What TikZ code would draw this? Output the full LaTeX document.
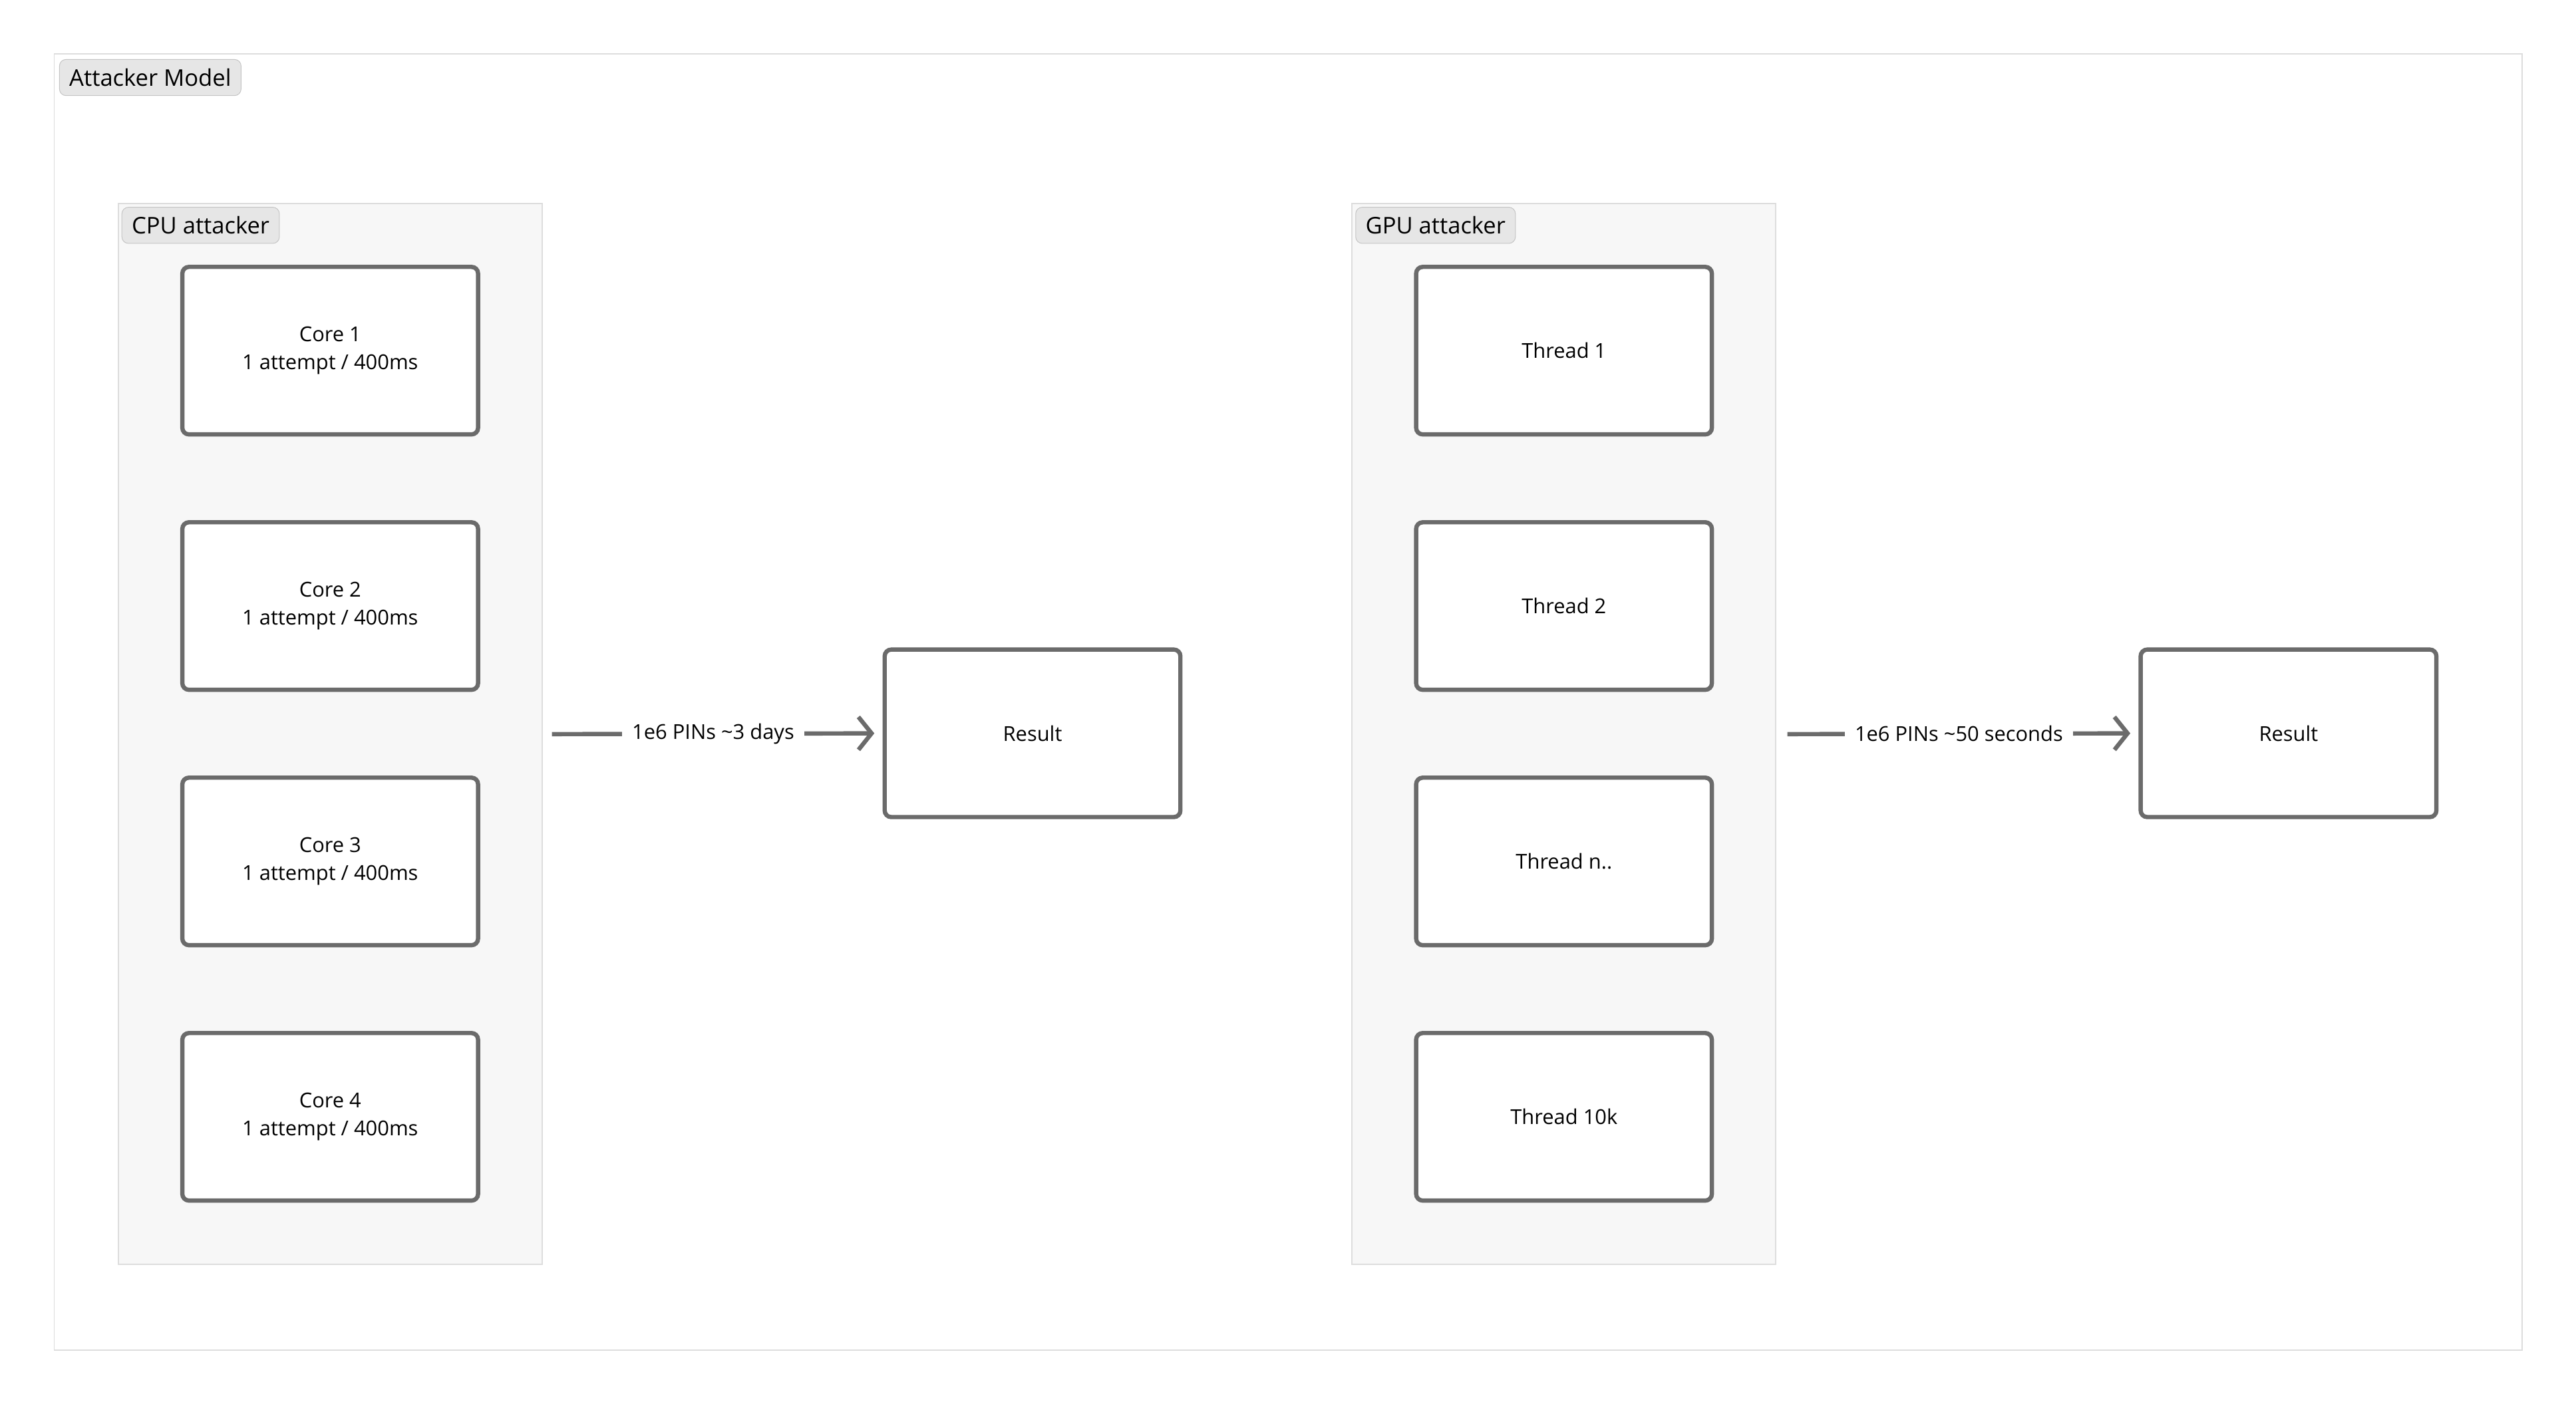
\documentclass[tikz,border=0pt]{standalone}
\usepackage{fontspec}
\setmainfont{Open Sans}
\usetikzlibrary{arrows.meta}
\definecolor{boxc}{HTML}{6B6B6B}
\definecolor{grpfill}{HTML}{F7F7F7}
\definecolor{grpline}{HTML}{DDDDDD}
\definecolor{tagfill}{HTML}{E6E6E6}
\definecolor{tagline}{HTML}{C4C4C4}
\tikzset{
 x=1pt,y=-1pt,
 box/.style={draw=boxc,line width=2.6pt,rounded corners=4pt,fill=white,minimum width=180pt,minimum height=102pt,align=center,font=\fontsize{12.5}{17}\selectfont},
 tag/.style={draw=tagline,fill=tagfill,rounded corners=4pt,anchor=north west,inner xsep=6pt,inner ysep=3pt,font=\fontsize{14}{16}\selectfont,minimum height=22pt},
 grp/.style={draw=grpline,fill=grpfill,line width=0.8pt},
 conn/.style={draw=boxc,line width=2.6pt,-{Straight Barb[length=8pt,width=20pt,line width=2.6pt]}},
 lab/.style={fill=white,font=\fontsize{12.5}{15}\selectfont,inner xsep=6pt}
}
\begin{document}
\begin{tikzpicture}
\useasboundingbox (0,0) rectangle (1568,856);
\fill[white] (0,0) rectangle (1568,856);
\draw[grpline,line width=0.8pt] (33,33) rectangle (1535,822);
\node[tag] (tm) at (36,36) {Attacker Model};
\draw[grp] (72,124) rectangle (330,770);
\node[tag] (tc) at (74,126) {CPU attacker};
\draw[grp] (823,124) rectangle (1081,770);
\node[tag] (tg) at (825,126) {GPU attacker};
\node[box] (c1) at (201,213.5) {Core 1\\1 attempt / 400ms};
\node[box] (c2) at (201,369) {Core 2\\1 attempt / 400ms};
\node[box] (c3) at (201,524.5) {Core 3\\1 attempt / 400ms};
\node[box] (c4) at (201,680) {Core 4\\1 attempt / 400ms};
\node[box] (r1) at (628.5,446.5) {Result};
\node[box] (t1) at (952,213.5) {Thread 1};
\node[box] (t2) at (952,369) {Thread 2};
\node[box] (t3) at (952,524.5) {Thread n..};
\node[box] (t4) at (952,680) {Thread 10k};
\node[box] (r2) at (1393,446.5) {Result};
\coordinate (s1) at (336,447);
\coordinate (s2) at (1088,447);
\draw[conn] (s1) -- node[lab]{1e6 PINs \textasciitilde3 days} ([xshift=-5pt]r1.west);
\draw[conn] (s2) -- node[lab]{1e6 PINs \textasciitilde50 seconds} ([xshift=-5pt]r2.west);
\end{tikzpicture}
\end{document}
